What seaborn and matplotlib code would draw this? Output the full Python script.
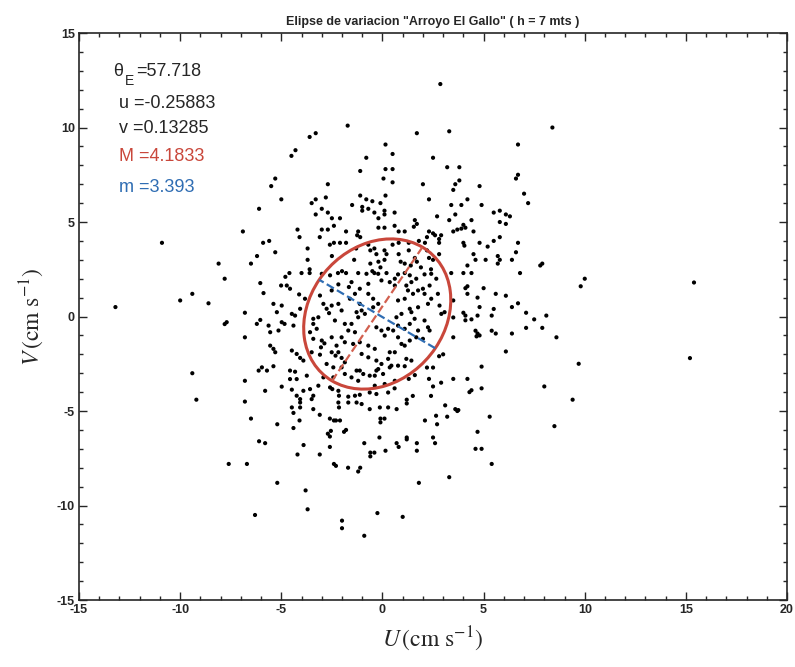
"""
Elipse de variacion - Arroyo El Gallo, scatter of U/V velocities with variance ellipse
"""
import numpy as np
import pandas as pd
import seaborn as sns
import matplotlib.pyplot as plt
from matplotlib.patches import Ellipse
from matplotlib.ticker import MultipleLocator

sns.set_style('ticks')
plt.rcParams['font.family'] = ['Liberation Sans', 'DejaVu Sans']
plt.rcParams['mathtext.fontset'] = 'stix'
plt.rcParams['axes.unicode_minus'] = False

# ellipse stats (from the labels on the chart)
theta_e = 57.718
u_mean = -0.25883
v_mean = 0.13285
M_axis = 4.1833
m_axis = 3.393

# velocity points (U, V) in cm/s
upper_left = [(-1.72, 10.1), (-3.3, 9.7), (-3.6, 9.5), (-4.3, 8.8), (-4.5, 8.5), (0.15, 9.1), (0.5, 8.6),
              (-0.8, 8.4), (-1.1, 7.7), (0.15, 7.8), (0.5, 7.8), (0.05, 7.3), (0.5, 7.1), (-5.3, 7.3),
              (-5.5, 6.9), (-2.7, 7.0), (-6.1, 5.7), (-5.0, 6.2), (-3.5, 6.0), (-3.3, 6.2), (-2.8, 6.3),
              (-1.1, 6.4), (-1.5, 5.9), (-1.0, 5.8), (-1.0, 5.6), (-0.8, 6.2), (-0.5, 6.1), (0.15, 6.4),
              (-0.1, 6.0), (-0.7, 5.7), (-0.4, 5.5), (0.1, 5.6), (0.1, 5.4), (-3.0, 5.7), (-3.3, 5.4),
              (-2.7, 5.5), (-2.5, 5.2), (-2.4, 4.8), (-2.1, 5.2), (-0.2, 5.2), (0.6, 5.5),
              (-6.9, 4.5), (-4.2, 4.6), (-4.1, 4.2), (-3.1, 4.2), (-3.0, 4.6), (-2.7, 4.6), (-1.8, 4.5),
              (-1.2, 4.5), (-1.1, 4.2), (-1.25, 4.3), (-0.2, 4.7), (0.1, 4.7), (0.6, 4.8),
              (-5.6, 4.0), (-5.9, 3.9), (-6.2, 3.2), (-5.3, 3.4), (-6.5, 2.8), (-3.7, 3.6), (-3.7, 3.0),
              (-2.6, 3.8), (-2.4, 3.9), (-2.5, 3.2), (-2.1, 3.9), (-1.8, 3.9), (-1.3, 3.6), (-1.4, 3.0),
              (-0.7, 3.8), (-0.6, 3.5), (-0.4, 3.6), (-0.3, 3.3), (0.1, 3.5), (0.2, 3.3), (0.1, 3.0),
              (0.5, 3.8), (0.8, 3.3), (-0.6, 2.8), (-0.5, 2.4), (-0.2, 2.9), (-0.1, 2.6), (-4.6, 2.3),
              (-4.8, 2.1), (-4.0, 2.3), (-3.6, 2.5), (-3.6, 2.3), (-2.2, 2.3), (-2.0, 2.4), (-1.8, 2.3),
              (-1.2, 2.3), (-0.4, 2.3)]

upper_right = [(2.86, 12.3), (8.4, 10.0), (1.7, 9.7), (3.3, 9.8), (6.7, 9.1), (2.5, 8.4), (3.2, 7.9),
               (3.8, 7.9), (6.7, 7.5), (6.6, 7.3), (3.8, 7.2), (3.6, 7.0), (3.5, 6.7), (2.0, 7.0),
               (4.8, 6.9), (7.0, 6.5), (7.2, 6.0), (2.3, 6.2), (4.2, 6.2), (3.4, 5.9), (3.9, 5.9),
               (4.9, 5.9), (5.5, 5.5), (5.8, 5.6), (6.1, 5.4), (6.3, 5.3), (5.8, 5.0), (6.1, 4.9),
               (2.7, 5.3), (3.3, 5.1), (3.6, 5.4), (4.4, 5.1), (1.6, 5.1), (1.7, 4.9), (1.55, 4.75),
               (4.0, 4.85), (4.1, 4.7), (3.9, 4.65), (3.5, 4.5), (3.7, 4.6), (4.5, 4.5), (0.8, 4.5),
               (1.1, 4.5), (2.3, 4.5), (2.5, 4.4), (2.6, 4.3), (2.9, 4.3), (2.8, 4.1), (2.8, 3.9),
               (2.2, 4.2), (2.1, 3.9), (1.8, 4.0), (4.0, 3.9), (4.05, 3.75), (4.8, 3.9), (5.5, 4.0),
               (5.8, 4.2), (6.7, 3.9), (5.2, 3.7), (6.6, 3.4), (0.8, 3.9), (1.3, 3.9), (1.3, 3.5),
               (1.6, 3.1), (2.2, 3.5), (2.3, 3.1), (2.5, 3.0), (2.8, 3.3), (4.5, 3.3), (4.6, 3.0),
               (5.1, 3.0), (5.7, 3.2), (5.8, 3.0), (5.7, 2.8), (6.4, 3.0), (7.9, 2.8), (7.8, 2.7),
               (4.2, 2.7), (4.0, 2.3), (4.4, 2.3), (3.4, 2.3), (6.8, 2.3), (0.9, 2.9), (1.1, 2.8),
               (1.4, 2.7), (1.7, 2.9), (1.9, 2.6), (2.4, 2.5)]

far_left = [(-10.9, 3.9), (-8.1, 2.8), (-7.8, 2.0), (-13.2, 0.5), (-10.0, 0.85), (-9.4, 1.2), (-8.6, 0.7),
            (-6.8, 0.2), (-7.8, -0.4), (-7.7, -0.3), (-6.8, -1.1), (-9.4, -3.0), (-6.8, -3.4), (-9.2, -4.4),
            (-6.8, -4.5), (-6.5, -5.4), (-5.2, -5.7), (-6.1, -6.6), (-5.8, -6.7), (-7.6, -7.8), (-6.7, -7.8),
            (-5.2, -8.8), (-6.3, -10.5)]

far_right = [(10.0, 2.0), (9.8, 1.6), (15.4, 1.8), (8.6, -1.1), (15.2, -2.2), (9.7, -2.5), (9.4, -4.4),
             (8.5, -5.8)]

lower = [(-4.4, -5.1), (-4.1, -5.5), (-4.4, -5.9), (-3.1, -5.2), (-2.6, -5.4), (-2.4, -5.5), (-2.3, -5.5),
         (-2.1, -5.5), (-2.7, -6.2), (-2.6, -6.35), (-2.55, -6.05), (-1.9, -6.1), (-1.8, -6.0), (-2.6, -6.9),
         (-3.9, -6.8), (-4.2, -7.3), (-3.1, -7.3), (-2.4, -7.8), (-2.3, -7.9), (-1.7, -8.0), (-1.2, -8.2),
         (-1.1, -8.0), (-0.9, -6.7), (-0.15, -6.4), (-0.6, -7.2), (-0.6, -7.4), (-0.4, -7.2), (-0.1, -5.4),
         (-0.1, -5.6), (0.1, -5.4), (0.15, -7.1), (0.7, -6.7), (0.8, -6.9), (1.2, -6.4), (1.2, -6.5),
         (1.7, -6.7), (1.7, -7.1), (1.8, -8.8), (-3.8, -9.2), (-3.7, -10.2), (-2.0, -10.8), (-2.0, -11.2),
         (-0.9, -11.6), (-0.25, -10.4), (1.0, -10.6), (2.65, -5.25), (3.2, -5.3), (3.7, -5.0), (2.1, -5.5),
         (2.7, -5.7), (5.3, -5.3), (4.7, -6.1), (2.5, -6.4), (2.6, -6.7), (4.6, -7.0), (4.9, -7.0),
         (5.4, -7.8), (3.3, -8.5)]

middle_right = [(4.2, 1.6), (4.1, 1.5), (4.2, 1.2), (5.0, 1.5), (5.6, 1.2), (6.1, 1.1), (6.7, 0.7), (6.4, 0.5),
                (4.7, 1.0), (4.8, 0.5), (5.5, 0.4), (5.4, 0.05), (7.1, 0.2), (7.5, -0.15), (8.1, 0.05),
                (7.1, -0.6), (7.9, -0.6), (4.0, 0.2), (4.1, 0.05), (4.4, -0.15), (4.1, -0.2), (4.7, 0.05),
                (3.5, 0.85), (3.5, -0.05), (4.6, -0.75), (4.7, -0.9), (4.8, -1.0), (4.65, -1.05), (5.4, -0.75),
                (5.6, -0.9), (6.4, -0.9), (3.5, -1.1), (6.1, -1.85), (4.9, -2.65), (3.5, -3.3), (4.2, -3.3),
                (4.9, -3.8), (4.4, -3.9), (4.3, -4.0), (8.0, -3.7), (2.9, -3.5), (2.5, -3.7), (2.4, -4.2),
                (3.1, -4.7), (3.6, -4.9), (3.75, -4.95), (1.5, -4.2), (1.2, -4.4), (1.2, -4.6), (0.7, -4.9),
                (2.3, -3.3), (1.6, -3.1), (1.3, -3.3), (0.6, -3.8), (3.0, -2.0), (2.8, -2.1), (2.2, -2.7),
                (2.5, -2.7)]

inner_right = [(0.77, 2.23), (1.10, 2.30), (1.35, 2.18), (1.43, 1.82), (1.67, 2.00), (2.08, 2.23), (2.41, 2.26),
               (2.66, 2.00), (2.33, 1.64), (2.00, 1.47), (1.76, 1.38), (1.51, 1.20), (1.26, 1.38), (1.10, 0.94),
               (0.77, 0.85), (0.61, 1.64), (1.18, 1.64), (2.08, 1.20), (2.41, 0.94), (2.74, 1.20), (2.91, 0.14),
               (3.07, 0.23), (2.82, 0.58), (2.25, 0.67), (1.76, 0.49), (1.35, 0.41), (0.94, 0.14), (0.69, -0.04),
               (1.43, 0.23), (1.59, -0.12), (1.35, -0.39), (1.10, -0.65), (0.77, -0.48), (0.53, -0.74),
               (1.76, -0.74), (2.08, -0.21), (2.25, -0.57), (2.33, -0.74), (2.00, -1.18), (1.67, -1.10),
               (1.35, -1.27), (1.10, -1.54), (0.77, -1.10), (0.94, -1.45), (0.61, -1.89), (1.18, -2.24),
               (1.43, -2.33), (1.10, -2.63), (0.77, -2.60), (0.44, -2.60)]

middle_left = [(-6.04, 1.77), (-5.88, 1.24), (-5.01, 1.64), (-4.73, 1.64), (-4.57, 1.47), (-4.12, 1.17),
               (-3.83, 0.94), (-5.39, 0.67), (-4.98, 0.58), (-6.21, -0.39), (-6.04, -0.18), (-5.63, -0.48),
               (-5.22, 0.23), (-4.98, -0.30), (-4.84, -0.39), (-4.48, 0.14), (-4.32, 0.05), (-4.40, -0.48),
               (-4.07, 0.41), (-5.55, -0.83), (-5.14, -0.74), (-5.55, -1.54), (-5.39, -1.71), (-5.30, -1.89),
               (-4.48, -1.80), (-4.24, -1.98), (-4.07, -2.19), (-3.91, -2.33), (-5.96, -2.69), (-5.71, -2.86),
               (-6.12, -2.86), (-5.39, -2.63), (-4.57, -2.86), (-4.32, -2.92), (-4.57, -3.31), (-4.24, -3.31),
               (-3.74, -3.13), (-4.98, -3.71), (-5.80, -3.93), (-4.48, -3.87), (-4.24, -4.19), (-3.91, -3.93),
               (-3.58, -3.84), (-3.17, -3.66), (-4.07, -4.37), (-4.07, -4.55), (-4.07, -4.81), (-4.48, -4.81),
               (-3.42, -4.19), (-3.50, -4.37), (-3.42, -4.90), (-2.59, -3.75), (-2.48, -3.84), (-2.18, -3.93),
               (-2.15, -4.19), (-2.18, -4.55), (-2.15, -4.81), (-1.69, -4.24), (-1.69, -4.55), (-1.36, -4.19),
               (-1.12, -4.14), (-1.03, -4.63), (-1.28, -4.55), (-0.63, -4.02), (-0.30, -4.10), (0.28, -4.02),
               (-0.13, -4.81), (0.28, -4.81), (-0.63, -4.90), (0.61, -3.40)]

inner_left = [(-3.00, 2.26), (-2.59, 2.18), (-0.79, 2.26), (-0.21, 2.26), (0.20, 2.30), (-1.53, 1.82), (-1.66, 1.56),
              (-2.18, 1.70), (-2.51, 1.38), (-0.70, 1.73), (-1.12, 1.47), (-0.05, 1.91), (0.36, 1.82), (0.61, 2.00),
              (-3.09, 1.11), (-2.92, 0.67), (-2.76, 0.41), (-2.51, 0.58), (-2.64, 0.18), (-3.42, -0.12),
              (-3.17, -0.04), (-3.42, -0.39), (-3.25, -0.65), (-3.58, -0.83), (-3.42, -1.18), (-3.00, -1.27),
              (-2.87, -1.42), (-3.04, -1.63), (-3.50, -1.89), (-3.09, -2.02), (-2.51, -1.10), (-2.02, -1.10),
              (-2.27, -1.54), (-2.51, -1.89), (-2.18, -1.89), (-2.32, -2.07), (-2.02, -2.19), (-2.76, -2.51),
              (-2.43, -2.69), (-2.02, -2.69), (-1.86, -2.42), (-2.92, -3.22), (-2.43, -3.22), (-1.86, -3.04),
              (-1.53, -3.22), (-1.28, -2.86), (-1.12, -2.86), (-0.95, -3.04), (-1.20, -3.40), (-0.63, -3.13),
              (-0.38, -3.13), (-0.21, -2.78), (0.03, -3.04), (-0.38, -3.66), (0.11, -3.57), (0.36, -2.69),
              (-1.69, -0.74), (-1.36, -0.83), (-1.53, -0.39), (-1.86, -0.39), (-1.86, -1.36), (-1.45, -1.45),
              (-1.12, -1.36), (-1.28, 0.23), (-1.03, 0.32), (-0.87, 0.14), (-1.20, -0.04), (-0.70, 1.20),
              (-0.46, 0.94), (-0.21, 0.67), (-0.46, 0.49), (-1.61, 0.94), (-1.36, 1.20), (-1.12, 0.67),
              (-2.18, 0.67), (-2.02, 0.32), (-2.35, -0.21), (-0.30, -0.57), (-0.05, -0.74), (0.11, -1.01),
              (0.28, -0.65), (-0.70, -1.54), (-0.38, -1.71), (-1.03, -1.98), (-0.70, -2.16), (-0.30, -2.33),
              (-0.05, -2.51), (0.36, -1.89), (0.28, -2.24), (-0.30, -2.86)]

all_pts = (upper_left + upper_right + far_left + far_right + lower +
           middle_right + inner_right + middle_left + inner_left)
df = pd.DataFrame(all_pts, columns=['U', 'V'])

red = '#c9473b'
blue = '#2f6db3'

fig, ax = plt.subplots(figsize=(7.95, 6.67), dpi=100)
fig.subplots_adjust(left=0.0994, right=0.99, top=0.9505, bottom=0.1004)

sns.scatterplot(data=df, x='U', y='V', ax=ax, color='black', s=9, marker='o', edgecolor='none', legend=False)

# variance ellipse + its axes
ax.add_patch(Ellipse((u_mean, v_mean), 2 * M_axis, 2 * m_axis, angle=theta_e,
                     fill=False, edgecolor=red, lw=2.2, zorder=3))
th = np.deg2rad(theta_e)
dM = np.array([np.cos(th), np.sin(th)]) * M_axis
dm = np.array([-np.sin(th), np.cos(th)]) * m_axis
ax.plot([u_mean - dM[0], u_mean + dM[0]], [v_mean - dM[1], v_mean + dM[1]],
        ls='--', color='#d2604f', lw=1.6, zorder=3)
ax.plot([u_mean - dm[0], u_mean + dm[0]], [v_mean - dm[1], v_mean + dm[1]],
        ls='--', color=blue, lw=1.6, zorder=3)

# stats text
ax.text(-13.3, 12.95, 'θ', fontsize=13, va='center')
ax.text(-12.75, 12.45, 'E', fontsize=10, va='center')
ax.text(-12.2, 12.95, '=57.718', fontsize=13, va='center')
ax.text(-13.0, 11.25, 'u =-0.25883', fontsize=13, va='center')
ax.text(-13.0, 9.95, 'v =0.13285', fontsize=13, va='center')
ax.text(-13.0, 8.45, 'M =4.1833', fontsize=13, va='center', color=red)
ax.text(-13.0, 6.85, 'm =3.393', fontsize=13, va='center', color=blue)

ax.set_xlim(-15, 20)
ax.set_ylim(-15, 15)
ax.xaxis.set_major_locator(MultipleLocator(5))
ax.yaxis.set_major_locator(MultipleLocator(5))
ax.xaxis.set_minor_locator(MultipleLocator(1))
ax.yaxis.set_minor_locator(MultipleLocator(1))
ax.tick_params(which='both', direction='in', top=True, right=True, width=1)
ax.tick_params(which='major', length=6, labelsize=9, pad=3)
ax.tick_params(which='minor', length=3)
for lab in ax.get_xticklabels() + ax.get_yticklabels():
    lab.set_fontweight('bold')
for sp in ax.spines.values():
    sp.set_linewidth(1.2)

ax.set_title('Elipse de variacion "Arroyo El Gallo" ( h = 7 mts )', fontsize=9,
             fontweight='bold', pad=6)
ax.set_xlabel(r'$U\,(\mathrm{cm\ s^{-1}})$', fontsize=17, labelpad=6)
ax.set_ylabel(r'$V\,(\mathrm{cm\ s^{-1}})$', fontsize=17, labelpad=8)

plt.savefig('out.png', dpi=100)
